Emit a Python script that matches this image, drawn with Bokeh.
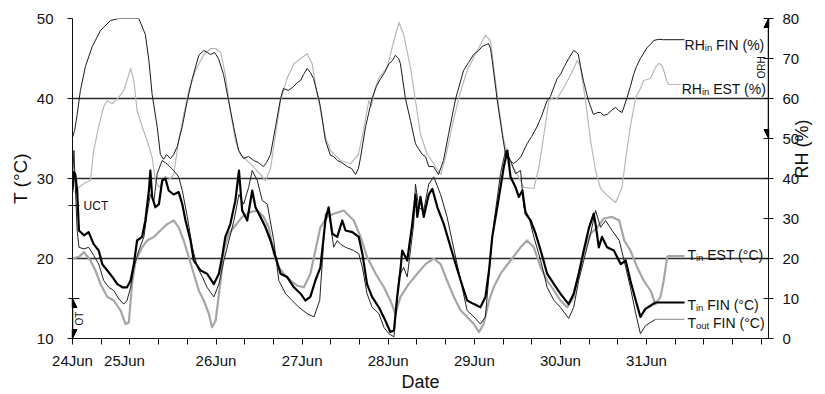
import math
from bokeh.plotting import figure
from bokeh.models import Range1d, LinearAxis, FixedTicker, Arrow, NormalHead, Label
from bokeh.embed import file_html
from bokeh.resources import INLINE

FONT = "Liberation Sans"

# ---------------- data (x = hours from start of record) ----------------
RH_IN_FIN = [(0,50.3),(0.6,52),(1.3,56),(2.2,62),(3.6,68),(5.5,73),(7.8,77),(10.6,79.5),(12.9,80),(15.6,80),
    (18.5,80),(20.3,76),(21.3,69.5),(22.2,61),(23.6,53),(24.5,46),(25.4,44.8),(26.2,46),(27.3,45),(28.2,46),
    (29.2,48),(30.6,53),(32.0,59.5),(33.4,65),(35.2,70.8),(36.6,72),(37.6,71.5),(38.5,71),(39.6,71.5),(40.7,70),
    (42.1,66),(43.5,59.5),(44.9,53),(46.3,47),(47.7,45),(49.1,45.5),(50.5,44.5),(51.8,44),(53.2,43),(54.1,44),
    (55.2,46),(56.6,53),(58.0,60),(58.8,62.5),(60.2,62),(61.6,63),(62.7,64),(63.6,64.5),(64.4,66),(65.4,67.5),
    (66.3,66.5),(67.2,65),(68.6,60),(69.1,58),(70.5,49.5),(71.9,45.8),(72.8,45.5),(73.8,44.5),(75.0,44),(76.6,43),
    (77.8,42.5),(78.9,41),(79.7,42.5),(80.3,45.3),(81.7,53),(83.5,60),(84.7,63),(85.9,65),(87.0,66.5),(88.2,68.7),
    (89.2,69.5),(90.0,70.8),(90.9,70),(91.4,68.7),(92.8,60),(94.2,54.5),(95.6,48.7),(96.4,47.5),(97.5,46),(98.4,45.5),
    (99.3,43),(100.6,43),(102.0,41),(103.4,44.5),(104.8,51),(106.8,60),(109.0,67),(110.4,69),(111.8,71),(113.2,72),
    (114.2,73),(115.4,73.5),(116.0,73.7),(116.5,72.5),(117.0,69.5),(118.4,59.5),(119.8,51),(120.7,46),(121.5,45),
    (122.9,43.7),(124.0,44.5),(124.9,45.3),(126.7,48.7),(128.0,50.5),(129.5,53),(130.7,55.5),(132.3,59.5),(133.2,60.5),
    (135.1,65),(136.0,66),(137.1,68),(138.3,70),(139.7,72),(140.5,71.5),(141.0,71),(141.6,68),(142.4,64.5),(143.8,59.5),
    (145.2,56),(146.4,56.5),(147.2,56.5),(148.0,55.8),(149.0,56),(150.2,57),(151.4,57.8),(152.2,57),(153.2,56.5),
    (154.6,60.3),(155.5,63),(156.4,66),(157.2,68),(158.3,70),(160.2,72.8),(161.1,73.5),(162.0,74.5),(163.4,74.8),(164.7,74.7)]

RH_IN_EST = [(0,37),(0.8,36.5),(1.8,37.8),(2.8,38.5),(3.6,39),(5.0,39.5),(5.9,47),(7.3,53),(8.7,58),(9.7,59.5),
    (11.1,58.7),(12.0,59.5),(12.9,60.3),(14.3,62),(15.2,64.5),(16.2,67.5),(17.1,64.5),(18.0,57),(19.4,53),(20.8,49.5),
    (22.2,45.3),(23.1,39.5),(24.1,37.8),(25.1,39),(25.9,40.5),(27.3,40),(28.2,41),(29.6,49.5),(31.0,56),(32.4,62),
    (34.3,67),(36.6,71),(38.5,72.5),(39.9,72.5),(41.3,71.5),(42.6,66),(44.0,57),(45.4,49.5),(46.8,46),(49.6,43.7),
    (52.4,41),(53.8,39.5),(55.2,42.5),(56.6,51),(58.0,59.5),(59.8,65),(61.7,68.7),(63.6,70),(65.4,71.2),(66.8,68.7),
    (68.2,61),(68.6,59.5),(70.5,50.3),(71.9,47),(74.7,44.5),(77.5,43.7),(79.7,46),(81.1,52),(82.6,59.5),(83.3,58),
    (84.2,62),(85.3,65),(87.7,67.8),(89.6,74.5),(91.0,79),(92.3,76),(94.2,67.8),(95.6,59.5),(97.0,51),(98.9,46),
    (100.7,43.7),(102.6,41),(104.0,45.3),(105.8,53),(107.7,60.3),(110.0,67),(112.8,72),(115.1,75.8),(116.5,74.5),
    (117.4,67.8),(118.8,58),(120.2,49.5),(122.1,43.7),(124.0,41),(125.8,37.8),(128.6,37.5),(130.0,42.8),(131.4,51),
    (132.8,59.5),(134.2,60.3),(135.1,60),(137.0,62.8),(138.8,65.8),(140.7,69.5),(141.6,67.8),(143.0,59.5),(144.4,49.5),
    (145.8,42),(147.2,37.5),(149.0,35.8),(151.4,34),(153.2,37.8),(154.2,45),(155.5,53),(157.0,60.3),(158.3,62.5),
    (159.2,64.5),(161.1,65),(162.5,67.8),(163.4,68.7),(164.2,68.5),(164.8,67),(165.6,64.5),(166.2,63.5)]

T_IN_FIN = [(0,28.5),(0.4,30.8),(0.8,30.5),(1.3,28.5),(1.8,23.5),(3.2,22.9),(4.5,23.3),(5.9,21.8),(7.3,21),(8.3,19.3),
    (9.7,18.5),(11.1,17.7),(12.5,16.8),(13.9,16.4),(15.2,16.4),(16.2,17.25),(17.1,19.3),(18.0,22.25),(19.4,22.7),
    (20.3,24.75),(21.3,28.5),(21.7,31),(22.2,27.7),(23.1,26.4),(24.1,26.8),(25.0,29.75),(25.9,30),(26.8,28.5),(28.2,28),
    (29.6,28.3),(30.6,26.8),(31.5,24.75),(32.9,22.25),(33.8,19.75),(35.7,18.5),(37.5,18.1),(39.4,16.8),(40.8,18.1),
    (41.7,20.2),(42.6,22.7),(44.0,24.3),(45.4,27.25),(46.4,31),(47.3,26),(48.7,24.75),(50.1,28.5),(51.0,26.4),
    (52.4,25.2),(53.8,23.9),(55.2,22.25),(56.6,20.2),(58.0,18.1),(59.8,17.7),(61.7,16.4),(63.6,15.6),(64.9,14.75),
    (66.3,15.2),(67.7,17.25),(69.1,18.9),(70.5,24.75),(71.4,26.4),(72.4,23.1),(73.8,22.7),(75.2,24.75),(76.1,23.5),
    (78.0,23.3),(79.8,22.7),(80.8,20.6),(82.1,16.8),(83.5,15.2),(85.4,13.9),(87.2,12.25),(88.6,10.8),(89.6,11),
    (90.5,15.2),(91.4,18.5),(91.9,21),(93.3,19.75),(94.7,24.3),(95.6,28),(96.1,25.2),(97.0,27.7),(97.9,25.2),(99.3,28),
    (100.3,28.7),(101.7,26.4),(103.5,24.3),(105.4,21.4),(106.8,19.3),(108.2,17.25),(110.0,14.75),(111.9,14.3),
    (113.7,13.9),(115.1,15.2),(116.1,18.5),(117.0,22.7),(118.4,26.4),(120.2,31.4),(121.2,33.5),(122.1,30.2),
    (123.5,28.9),(124.4,27.7),(125.4,28.5),(126.3,25.6),(127.7,24.75),(129.1,23.1),(130.5,21),(132.3,18.1),
    (134.2,16.8),(136.0,15.6),(138.3,14.3),(139.7,15.6),(141.1,18.1),(142.5,21),(144.0,23.9),(145.3,25.6),(145.8,24.3),
    (146.7,21.4),(147.6,22.7),(149.0,21.4),(150.9,21),(152.8,19.3),(154.2,19.75),(155.5,17.25),(157.0,14.75),
    (158.3,12.7),(159.7,13.7),(161.1,14.1),(162.5,14.5)]

T_OUT_FIN = [(0,30),(0.4,33.5),(0.8,28.9),(1.3,23.5),(1.8,21.4),(3.2,21.2),(4.5,21.4),(5.9,20.4),(7.3,19.3),(8.7,17.25),
    (10.1,16.4),(11.5,16),(12.9,14.96),(14.3,14.3),(15.2,14.75),(16.2,16.4),(17.1,18.9),(18.5,21),(19.9,22.7),
    (20.8,25.6),(21.7,28),(22.7,27.25),(23.6,30.6),(25.0,32.25),(26.4,31.8),(28.2,31),(29.6,30.2),(30.6,28.5),
    (32.0,25.2),(33.4,21.4),(34.8,18.9),(36.2,17.7),(37.5,16.4),(39.4,15.2),(40.8,16.8),(42.2,19.75),(43.6,22.25),
    (45.0,24.75),(46.4,28),(47.7,26.8),(49.1,28.9),(50.1,31),(51.5,29.75),(52.9,27.25),(54.3,26.8),(56.1,22.25),
    (57.5,17.25),(59.4,15.6),(61.2,14.75),(63.1,13.9),(65.4,13.1),(67.3,12.7),(68.9,14.75),(69.7,20),(70.5,25.6),
    (71.4,26),(72.8,21.4),(73.8,22.25),(74.7,21.8),(76.1,21.4),(78.4,21),(79.8,20.6),(80.8,18.9),(82.1,15.6),
    (83.5,13.9),(85.4,13.1),(86.8,11.4),(88.2,10.6),(89.6,10.2),(91.0,17.7),(92.3,18.9),(93.3,17.7),(95.1,24.3),
    (95.6,29.3),(96.5,26.4),(97.9,26),(99.3,29.3),(100.7,30.2),(102.6,28),(104.4,25.2),(105.8,22.25),(107.2,19.3),
    (108.6,16.4),(110.0,13.5),(111.9,12.7),(113.7,11.8),(115.1,12.7),(116.5,20.2),(117.4,24.3),(119.3,30.6),
    (120.7,33.5),(122.1,32.25),(123.5,30.6),(124.9,31),(125.8,26.4),(127.2,25.2),(128.6,22.7),(130.5,19.75),
    (132.3,16.4),(134.2,14.75),(136.0,13.9),(138.3,12.5),(139.7,13.9),(141.1,17.25),(142.5,19.75),(144.4,23.1),
    (145.8,26),(147.2,23.9),(148.6,24.75),(150.4,23.5),(152.4,22.25),(154.2,18.9),(155.5,16.4),(157.0,13.1),
    (158.3,10.6),(159.7,11.6),(161.1,12),(162.5,12.4)]

T_IN_EST = [(0,20),(1.8,20.2),(3.2,20.8),(5.0,19.75),(6.4,18.5),(7.8,16.8),(9.7,15.2),(11.5,14.75),(13.4,13.5),
    (14.8,11.8),(15.7,12),(16.6,16.8),(17.6,19.75),(19.4,21.4),(20.8,22.25),(22.7,22.7),(24.5,23.5),(26.4,24.3),
    (28.2,24.75),(29.6,23.9),(31.0,22.25),(32.4,20.2),(33.8,18.1),(35.2,16),(36.6,14.75),(38.0,13.1),(38.9,11.4),
    (39.9,12.25),(41.3,17.25),(42.2,21),(43.6,23.1),(45.0,23.9),(47.3,25.2),(49.6,25.8),(51.5,26),(53.3,25.2),
    (54.7,23.9),(56.1,20.6),(57.5,18.9),(58.9,18.1),(60.8,17.25),(62.6,16.6),(64.5,16.4),(66.3,18.1),(67.7,21),
    (69.1,23.9),(71.0,25.2),(72.8,25.6),(75.6,26),(78.4,24.75),(80.3,22.7),(82.1,20.2),(84.5,18.1),(86.8,16.4),
    (88.6,14.75),(90.0,13.1),(91.4,15.2),(93.7,16.8),(96.1,18.1),(98.4,19.3),(100.7,20),(102.6,19.3),(104.4,17.25),
    (106.3,15.2),(108.2,13.5),(110.0,12.7),(111.9,11.8),(113.3,10.8),(114.6,11.8),(116.1,14.75),(117.4,16.4),
    (119.3,18.1),(122.1,19.75),(124.9,21.4),(126.7,22.25),(128.6,21.4),(130.5,18.9),(132.3,17.25),(134.2,16),
    (136.0,14.75),(137.9,13.9),(139.7,15.2),(141.1,18.1),(143.0,21.4),(144.4,23.1),(146.3,23.9),(148.1,25),
    (150.4,25.2),(152.4,24.75),(153.8,22.25),(155.5,21),(157.4,18.9),(159.2,17.25),(161.1,16),(162.5,14.3),
    (163.9,15.2),(164.8,17.25),(165.8,20.3)]

DAY_TICKS = [0, 14.5, 40, 64, 88, 112, 136, 160]
DAY_LABELS = ["24Jun", "25Jun", "26Jun", "27Jun", "28Jun", "29Jun", "30Jun", "31Jun"]
HOUR_TICKS = list(range(0, 193, 8))
T_TICKS = [10, 20, 30, 40, 50]
RH_TICKS = list(range(0, 81, 10))
UCT, OT_LOW, OT_HIGH = 26.6, 10, 15
ORH_LOW, ORH_HIGH = 50, 80

# ---------------- figure ----------------
p = figure(width=825, height=394, output_backend="svg", toolbar_location=None,
           x_range=Range1d(0, 194), y_range=Range1d(10, 50),
           min_border_left=72, min_border_right=57, min_border_top=18, min_border_bottom=56)
p.outline_line_color = None
p.extra_y_ranges = {"rh": Range1d(0, 80)}

p.xgrid.visible = False
p.ygrid.ticker = FixedTicker(ticks=[20, 30, 40, 50])
p.ygrid.grid_line_color = "#2a2a2a"
p.ygrid.grid_line_width = 1.3

AX_COLOR = "#111111"
def style_axis(ax, title_size="19px"):
    ax.axis_line_color = AX_COLOR
    ax.major_tick_line_color = AX_COLOR
    ax.minor_tick_line_color = AX_COLOR
    ax.major_label_text_font = FONT
    ax.major_label_text_font_size = "15px"
    ax.major_label_text_color = "#111111"
    ax.axis_label_text_font = FONT
    ax.axis_label_text_font_size = title_size
    ax.axis_label_text_font_style = "normal"
    ax.axis_label_text_color = "#111111"

xa = p.xaxis[0]
style_axis(xa, "18px")
xa.ticker = FixedTicker(ticks=DAY_TICKS, minor_ticks=HOUR_TICKS)
xa.major_label_overrides = {t: l for t, l in zip(DAY_TICKS, DAY_LABELS)}
xa.major_tick_out = 0
xa.major_tick_in = 0
xa.minor_tick_out = 6
xa.minor_tick_in = 0
xa.major_label_standoff = 7
xa.axis_label = "Date"
xa.axis_label_standoff = 0

ya = p.yaxis[0]
style_axis(ya)
ya.ticker = FixedTicker(ticks=T_TICKS, minor_ticks=[OT_HIGH, UCT])
ya.major_tick_out = 5
ya.major_tick_in = 0
ya.minor_tick_out = 4
ya.minor_tick_in = 7
ya.major_label_standoff = 14
ya.axis_label = "T (°C)"
ya.axis_label_standoff = 3

ra = LinearAxis(y_range_name="rh", ticker=FixedTicker(ticks=RH_TICKS))
style_axis(ra, "18px")
ra.major_tick_out = 5
ra.major_tick_in = 5
ra.minor_tick_out = 0
ra.minor_tick_in = 0
ra.major_label_standoff = 9
ra.axis_label = "RH (%)"
ra.axis_label_standoff = 0
ra.axis_label_orientation = math.pi / 2
p.add_layout(ra, "right")

# ---------------- series ----------------
def xs(series):
    return [a for a, b in series]
def ys(series):
    return [b for a, b in series]

LEADER_END = 170.6
series_specs = [
    (RH_IN_EST, "#b8b8b8", 1.2, "rh", 169.5),
    (RH_IN_FIN, "#1a1a1a", 1.0, "rh", LEADER_END),
    (T_IN_EST, "#a6a6a6", 2.2, "default", LEADER_END),
    (T_OUT_FIN, "#222222", 1.0, "default", LEADER_END),
    (T_IN_FIN, "#000000", 2.2, "default", LEADER_END),
]
for data, color, lw, rng, lend in series_specs:
    p.line(xs(data), ys(data), line_color=color, line_width=lw, y_range_name=rng, line_join="round")
    lx, ly = data[-1]
    lead_color = "#888888" if data is T_OUT_FIN else color
    p.line([lx, lend], [ly, ly], line_color=lead_color, line_width=lw, y_range_name=rng)

# ---------------- series labels with subscripts ----------------
W = {"R": .722, "H": .722, "T": .611, "i": .222, "n": .556, "o": .556, "u": .556, "t": .278, " ": .278}
def em(text):
    return sum(W.get(c, 0.556) for c in text)

def sub_label(x, y, main, sub, rest, rng):
    common = dict(text_font=FONT, text_color="#111111", text_baseline="alphabetic", y_range_name=rng)
    p.add_layout(Label(x=x, y=y, text=main, text_font_size="14px", **common))
    w1 = em(main) * 14
    p.add_layout(Label(x=x, y=y, x_offset=w1, y_offset=-3, text=sub, text_font_size="9.5px", **common))
    w2 = w1 + em(sub) * 9.5 + em(" ") * 14
    p.add_layout(Label(x=x, y=y, x_offset=w2, text=rest, text_font_size="14px", **common))

sub_label(170.6, 73.5, "RH", "in", "FIN (%)", "rh")
sub_label(169.8, 62.5, "RH", "in", "EST (%)", "rh")
sub_label(171.4, 20.5, "T", "in", "EST (°C)", "default")
sub_label(171.4, 14.19, "T", "in", "FIN (°C)", "default")
sub_label(171.4, 11.94, "T", "out", "FIN (°C)", "default")

# ---------------- comfort-range annotations ----------------
def head():
    return NormalHead(size=9, fill_color="black", line_color="black")

p.add_layout(Arrow(x_start=0, y_start=OT_HIGH, x_end=0, y_end=OT_LOW, start=head(), end=head(),
                   line_color="black", line_width=1.5))
p.add_layout(Label(x=1.9, y=(OT_LOW + OT_HIGH) / 2, text="OT", angle=math.pi / 2, text_align="center",
                   text_baseline="middle", text_font=FONT, text_font_size="10px", text_color="#111111"))
p.add_layout(Label(x=3.1, y=UCT, text="UCT", text_baseline="middle", text_font=FONT,
                   text_font_size="12px", text_color="#111111"))

p.add_layout(Arrow(x_start=194, y_start=ORH_HIGH, x_end=194, y_end=ORH_LOW, start=head(), end=head(),
                   line_color="black", line_width=1.5, y_range_name="rh"))
p.add_layout(Label(x=192.1, y=67.75, text="ORH", angle=math.pi / 2, text_align="center",
                   text_baseline="middle", text_font=FONT, text_font_size="10px", text_color="#111111",
                   y_range_name="rh"))

open("out.html", "w").write(file_html(p, INLINE))
